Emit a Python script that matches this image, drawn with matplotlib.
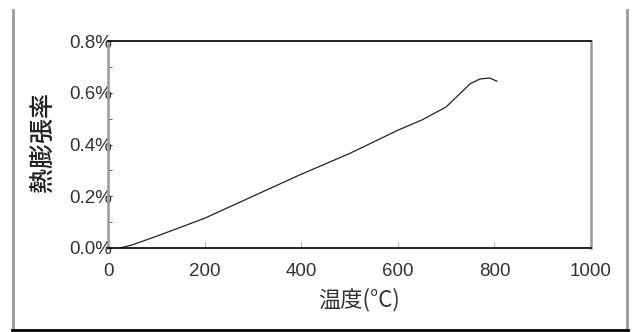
import matplotlib
matplotlib.use("Agg")
import matplotlib.pyplot as plt
from matplotlib.lines import Line2D
from matplotlib.ticker import MultipleLocator, FuncFormatter

plt.rcParams['font.family'] = ['Liberation Sans', 'Noto Sans CJK JP', 'DejaVu Sans']

# temperature (C) and thermal expansion (%)
temp = [25, 50, 100, 200, 300, 400, 500, 600, 650, 700, 725, 750, 770, 790, 805]
expansion = [0.0, 0.012, 0.045, 0.115, 0.2, 0.285, 0.365, 0.455, 0.495, 0.545,
             0.59, 0.635, 0.653, 0.657, 0.645]

xticks = [0, 200, 400, 600, 800, 1000]
text_col = '#333333'
cjk = ['Noto Sans CJK JP', 'DejaVu Sans']

fig = plt.figure(figsize=(6.33, 3.32), dpi=100)
ax = fig.add_axes([108 / 633, 1 - 248 / 332, 483 / 633, 207 / 332])

ax.plot(temp, expansion, color='#222222', lw=0.9)

ax.set_xlim(0, 1000)
ax.set_ylim(0, 0.8)
ax.set_xticks(xticks)
ax.yaxis.set_major_locator(MultipleLocator(0.2))
ax.yaxis.set_minor_locator(MultipleLocator(0.1))
ax.yaxis.set_major_formatter(FuncFormatter(lambda v, p: '%.1f%%' % v))

ax.tick_params(axis='x', direction='in', length=4, color='#bbbbbb',
               labelsize=13.5, labelcolor=text_col, pad=11)
ax.tick_params(axis='y', which='both', direction='in', length=3, color='#444444',
               labelsize=13.5, labelcolor=text_col, pad=-3)

for s in ['left', 'right']:
    ax.spines[s].set_color('#999999')
    ax.spines[s].set_linewidth(1.8)
for s in ['top', 'bottom']:
    ax.spines[s].set_color('black')
    ax.spines[s].set_linewidth(1.2)

ax.set_xlabel('温度(°C)', fontsize=16, color=text_col, family=cjk)
ax.xaxis.set_label_coords(0.52, -0.19)
ax.set_ylabel('熱膨張率', fontsize=18, color='#222222', family=cjk,
              fontweight='medium')
ax.yaxis.set_label_coords(-0.108, 0.51)

# outer frame of the original picture
fig.add_artist(Line2D([13 / 633, 13 / 633], [2 / 332, 1 - 10 / 332],
                      color='#999999', lw=2, transform=fig.transFigure))
fig.add_artist(Line2D([627 / 633, 627 / 633], [2 / 332, 1 - 10 / 332],
                      color='#999999', lw=2, transform=fig.transFigure))
fig.add_artist(Line2D([12 / 633, 628 / 633], [2 / 332, 2 / 332],
                      color='black', lw=2, transform=fig.transFigure))

fig.savefig('out.png', dpi=100)
